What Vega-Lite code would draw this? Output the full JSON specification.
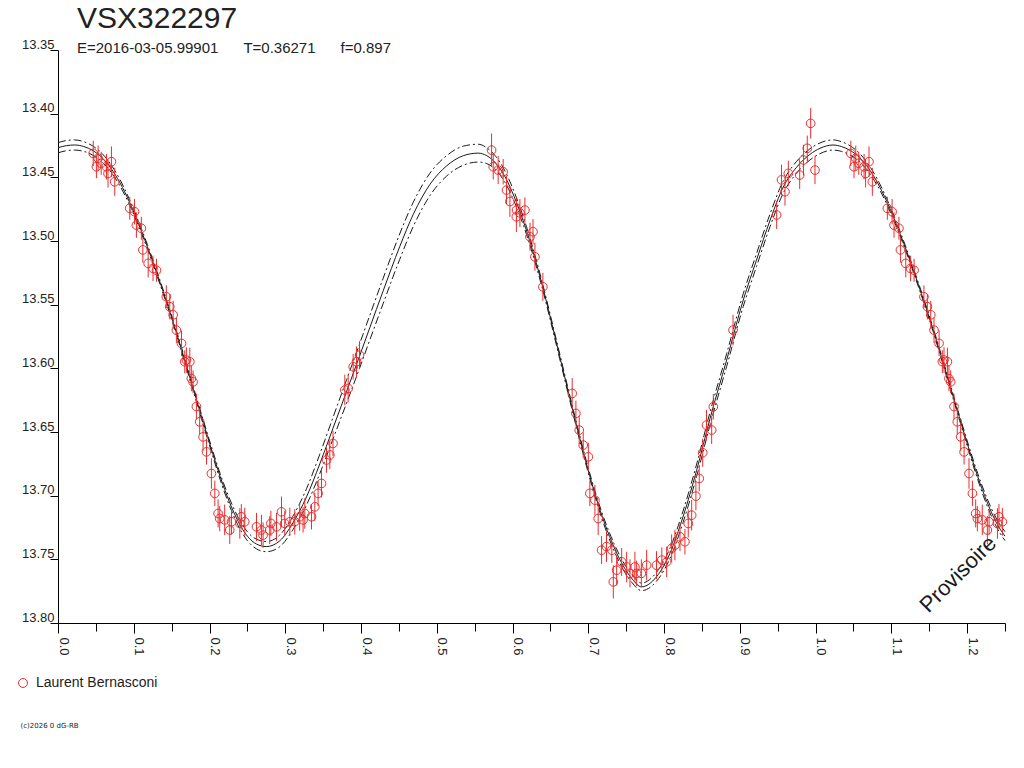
{
  "$schema": "https://vega.github.io/schema/vega-lite/v6.json",
  "width": 947,
  "height": 573,
  "autosize": "none",
  "padding": {"left": 58, "top": 50, "right": 19, "bottom": 145},
  "background": "white",
  "title": {
    "text": "VSX322297",
    "subtitle": "E=2016-03-05.99901\u00a0\u00a0\u00a0\u00a0\u00a0\u00a0T=0.36271\u00a0\u00a0\u00a0\u00a0\u00a0\u00a0f=0.897",
    "anchor": "start",
    "frame": "group",
    "dx": 19,
    "offset": -18,
    "font": "Liberation Sans",
    "fontSize": 30,
    "fontWeight": "normal",
    "color": "#222",
    "subtitleFont": "Liberation Sans",
    "subtitleFontSize": 15,
    "subtitleColor": "#222",
    "subtitlePadding": 7
  },
  "datasets": {
    "model": [
      {"phase": 0.000, "fit": 13.4268, "bright": 13.4228, "faint": 13.4308},
      {"phase": 0.011, "fit": 13.4251, "bright": 13.4211, "faint": 13.4291},
      {"phase": 0.022, "fit": 13.4246, "bright": 13.4206, "faint": 13.4286},
      {"phase": 0.034, "fit": 13.4258, "bright": 13.4220, "faint": 13.4296},
      {"phase": 0.046, "fit": 13.4290, "bright": 13.4254, "faint": 13.4326},
      {"phase": 0.058, "fit": 13.4345, "bright": 13.4312, "faint": 13.4378},
      {"phase": 0.070, "fit": 13.4430, "bright": 13.4401, "faint": 13.4459},
      {"phase": 0.082, "fit": 13.4545, "bright": 13.4520, "faint": 13.4570},
      {"phase": 0.094, "fit": 13.4690, "bright": 13.4669, "faint": 13.4711},
      {"phase": 0.106, "fit": 13.4860, "bright": 13.4841, "faint": 13.4879},
      {"phase": 0.118, "fit": 13.5045, "bright": 13.5028, "faint": 13.5062},
      {"phase": 0.130, "fit": 13.5245, "bright": 13.5229, "faint": 13.5261},
      {"phase": 0.142, "fit": 13.5455, "bright": 13.5440, "faint": 13.5470},
      {"phase": 0.154, "fit": 13.5675, "bright": 13.5660, "faint": 13.5690},
      {"phase": 0.166, "fit": 13.5910, "bright": 13.5894, "faint": 13.5926},
      {"phase": 0.178, "fit": 13.6150, "bright": 13.6133, "faint": 13.6167},
      {"phase": 0.190, "fit": 13.6390, "bright": 13.6372, "faint": 13.6408},
      {"phase": 0.202, "fit": 13.6625, "bright": 13.6605, "faint": 13.6645},
      {"phase": 0.214, "fit": 13.6850, "bright": 13.6826, "faint": 13.6874},
      {"phase": 0.226, "fit": 13.7045, "bright": 13.7017, "faint": 13.7073},
      {"phase": 0.238, "fit": 13.7205, "bright": 13.7173, "faint": 13.7237},
      {"phase": 0.250, "fit": 13.7318, "bright": 13.7283, "faint": 13.7353},
      {"phase": 0.262, "fit": 13.7380, "bright": 13.7342, "faint": 13.7418},
      {"phase": 0.275, "fit": 13.7400, "bright": 13.7360, "faint": 13.7440},
      {"phase": 0.2927, "fit": 13.7355, "bright": 13.7309, "faint": 13.7401},
      {"phase": 0.310, "fit": 13.7215, "bright": 13.7162, "faint": 13.7268},
      {"phase": 0.328, "fit": 13.7010, "bright": 13.6946, "faint": 13.7074},
      {"phase": 0.3456, "fit": 13.6750, "bright": 13.6674, "faint": 13.6826},
      {"phase": 0.363, "fit": 13.6470, "bright": 13.6385, "faint": 13.6555},
      {"phase": 0.381, "fit": 13.6180, "bright": 13.6089, "faint": 13.6271},
      {"phase": 0.398, "fit": 13.5905, "bright": 13.5810, "faint": 13.6000},
      {"phase": 0.4116, "fit": 13.5680, "bright": 13.5583, "faint": 13.5777},
      {"phase": 0.429, "fit": 13.5395, "bright": 13.5296, "faint": 13.5494},
      {"phase": 0.451, "fit": 13.5045, "bright": 13.4945, "faint": 13.5145},
      {"phase": 0.469, "fit": 13.4790, "bright": 13.4695, "faint": 13.4885},
      {"phase": 0.491, "fit": 13.4555, "bright": 13.4467, "faint": 13.4643},
      {"phase": 0.513, "fit": 13.4410, "bright": 13.4330, "faint": 13.4490},
      {"phase": 0.535, "fit": 13.4330, "bright": 13.4255, "faint": 13.4405},
      {"phase": 0.5546, "fit": 13.4310, "bright": 13.4240, "faint": 13.4380},
      {"phase": 0.566, "fit": 13.4330, "bright": 13.4268, "faint": 13.4392},
      {"phase": 0.578, "fit": 13.4390, "bright": 13.4337, "faint": 13.4443},
      {"phase": 0.590, "fit": 13.4495, "bright": 13.4450, "faint": 13.4540},
      {"phase": 0.602, "fit": 13.4650, "bright": 13.4612, "faint": 13.4688},
      {"phase": 0.614, "fit": 13.4840, "bright": 13.4808, "faint": 13.4872},
      {"phase": 0.626, "fit": 13.5065, "bright": 13.5038, "faint": 13.5092},
      {"phase": 0.638, "fit": 13.5320, "bright": 13.5297, "faint": 13.5343},
      {"phase": 0.650, "fit": 13.5605, "bright": 13.5585, "faint": 13.5625},
      {"phase": 0.662, "fit": 13.5900, "bright": 13.5880, "faint": 13.5920},
      {"phase": 0.674, "fit": 13.6195, "bright": 13.6175, "faint": 13.6215},
      {"phase": 0.686, "fit": 13.6485, "bright": 13.6465, "faint": 13.6505},
      {"phase": 0.698, "fit": 13.6760, "bright": 13.6740, "faint": 13.6780},
      {"phase": 0.710, "fit": 13.7010, "bright": 13.6988, "faint": 13.7032},
      {"phase": 0.722, "fit": 13.7225, "bright": 13.7200, "faint": 13.7250},
      {"phase": 0.734, "fit": 13.7405, "bright": 13.7377, "faint": 13.7433},
      {"phase": 0.746, "fit": 13.7550, "bright": 13.7520, "faint": 13.7580},
      {"phase": 0.758, "fit": 13.7655, "bright": 13.7625, "faint": 13.7685},
      {"phase": 0.770, "fit": 13.7716, "bright": 13.7686, "faint": 13.7746},
      {"phase": 0.790, "fit": 13.7637, "bright": 13.7602, "faint": 13.7672},
      {"phase": 0.8077, "fit": 13.7454, "bright": 13.7414, "faint": 13.7494},
      {"phase": 0.825, "fit": 13.7166, "bright": 13.7121, "faint": 13.7211},
      {"phase": 0.843, "fit": 13.6800, "bright": 13.6752, "faint": 13.6848},
      {"phase": 0.8606, "fit": 13.6395, "bright": 13.6345, "faint": 13.6445},
      {"phase": 0.8826, "fit": 13.5935, "bright": 13.5885, "faint": 13.5985},
      {"phase": 0.9045, "fit": 13.5464, "bright": 13.5414, "faint": 13.5514},
      {"phase": 0.922, "fit": 13.5150, "bright": 13.5100, "faint": 13.5200},
      {"phase": 0.940, "fit": 13.4835, "bright": 13.4785, "faint": 13.4885},
      {"phase": 0.957, "fit": 13.4580, "bright": 13.4532, "faint": 13.4628},
      {"phase": 0.975, "fit": 13.4420, "bright": 13.4374, "faint": 13.4466},
      {"phase": 0.9925, "fit": 13.4320, "bright": 13.4276, "faint": 13.4364},
      {"phase": 1.0058, "fit": 13.4272, "bright": 13.4230, "faint": 13.4314},
      {"phase": 1.023, "fit": 13.4246, "bright": 13.4206, "faint": 13.4286},
      {"phase": 1.034, "fit": 13.4258, "bright": 13.4220, "faint": 13.4296},
      {"phase": 1.046, "fit": 13.4290, "bright": 13.4254, "faint": 13.4326},
      {"phase": 1.058, "fit": 13.4345, "bright": 13.4312, "faint": 13.4378},
      {"phase": 1.070, "fit": 13.4430, "bright": 13.4401, "faint": 13.4459},
      {"phase": 1.082, "fit": 13.4545, "bright": 13.4520, "faint": 13.4570},
      {"phase": 1.094, "fit": 13.4690, "bright": 13.4669, "faint": 13.4711},
      {"phase": 1.106, "fit": 13.4860, "bright": 13.4841, "faint": 13.4879},
      {"phase": 1.118, "fit": 13.5045, "bright": 13.5028, "faint": 13.5062},
      {"phase": 1.130, "fit": 13.5245, "bright": 13.5229, "faint": 13.5261},
      {"phase": 1.142, "fit": 13.5455, "bright": 13.5440, "faint": 13.5470},
      {"phase": 1.154, "fit": 13.5675, "bright": 13.5660, "faint": 13.5690},
      {"phase": 1.166, "fit": 13.5910, "bright": 13.5894, "faint": 13.5926},
      {"phase": 1.178, "fit": 13.6150, "bright": 13.6133, "faint": 13.6167},
      {"phase": 1.190, "fit": 13.6390, "bright": 13.6372, "faint": 13.6408},
      {"phase": 1.202, "fit": 13.6625, "bright": 13.6605, "faint": 13.6645},
      {"phase": 1.214, "fit": 13.6850, "bright": 13.6826, "faint": 13.6874},
      {"phase": 1.226, "fit": 13.7045, "bright": 13.7017, "faint": 13.7073},
      {"phase": 1.238, "fit": 13.7205, "bright": 13.7173, "faint": 13.7237},
      {"phase": 1.250, "fit": 13.7318, "bright": 13.7283, "faint": 13.7353}
    ],
    "obs": [
      {"phase": 0.0465, "mag": 13.4312, "err": 0.010},
      {"phase": 0.0507, "mag": 13.4417, "err": 0.009},
      {"phase": 0.053, "mag": 13.435, "err": 0.010},
      {"phase": 0.057, "mag": 13.439, "err": 0.009},
      {"phase": 0.064, "mag": 13.4417, "err": 0.010},
      {"phase": 0.066, "mag": 13.447, "err": 0.011},
      {"phase": 0.0705, "mag": 13.4377, "err": 0.012},
      {"phase": 0.0749, "mag": 13.4535, "err": 0.011},
      {"phase": 0.0947, "mag": 13.4743, "err": 0.009},
      {"phase": 0.101, "mag": 13.477, "err": 0.010},
      {"phase": 0.1035, "mag": 13.4875, "err": 0.010},
      {"phase": 0.110, "mag": 13.490, "err": 0.009},
      {"phase": 0.112, "mag": 13.507, "err": 0.010},
      {"phase": 0.119, "mag": 13.5176, "err": 0.011},
      {"phase": 0.1254, "mag": 13.5215, "err": 0.010},
      {"phase": 0.130, "mag": 13.523, "err": 0.009},
      {"phase": 0.143, "mag": 13.5438, "err": 0.009},
      {"phase": 0.1475, "mag": 13.5516, "err": 0.010},
      {"phase": 0.152, "mag": 13.558, "err": 0.011},
      {"phase": 0.1563, "mag": 13.570, "err": 0.010},
      {"phase": 0.163, "mag": 13.5804, "err": 0.010},
      {"phase": 0.1673, "mag": 13.5948, "err": 0.009},
      {"phase": 0.1695, "mag": 13.5935, "err": 0.010},
      {"phase": 0.174, "mag": 13.5948, "err": 0.011},
      {"phase": 0.176, "mag": 13.608, "err": 0.010},
      {"phase": 0.1783, "mag": 13.6106, "err": 0.009},
      {"phase": 0.1827, "mag": 13.630, "err": 0.010},
      {"phase": 0.187, "mag": 13.642, "err": 0.010},
      {"phase": 0.1915, "mag": 13.6538, "err": 0.011},
      {"phase": 0.196, "mag": 13.6656, "err": 0.010},
      {"phase": 0.2025, "mag": 13.6826, "err": 0.012},
      {"phase": 0.207, "mag": 13.6982, "err": 0.010},
      {"phase": 0.2113, "mag": 13.714, "err": 0.011},
      {"phase": 0.2135, "mag": 13.718, "err": 0.010},
      {"phase": 0.220, "mag": 13.719, "err": 0.012},
      {"phase": 0.2267, "mag": 13.727, "err": 0.011},
      {"phase": 0.229, "mag": 13.7205, "err": 0.010},
      {"phase": 0.240, "mag": 13.7218, "err": 0.012},
      {"phase": 0.242, "mag": 13.7166, "err": 0.010},
      {"phase": 0.2465, "mag": 13.7205, "err": 0.011},
      {"phase": 0.262, "mag": 13.7245, "err": 0.011},
      {"phase": 0.2685, "mag": 13.727, "err": 0.012},
      {"phase": 0.2707, "mag": 13.731, "err": 0.010},
      {"phase": 0.2795, "mag": 13.727, "err": 0.011},
      {"phase": 0.281, "mag": 13.7218, "err": 0.010},
      {"phase": 0.2884, "mag": 13.7245, "err": 0.011},
      {"phase": 0.295, "mag": 13.7127, "err": 0.012},
      {"phase": 0.2993, "mag": 13.7218, "err": 0.010},
      {"phase": 0.306, "mag": 13.7205, "err": 0.011},
      {"phase": 0.3125, "mag": 13.7205, "err": 0.010},
      {"phase": 0.319, "mag": 13.7166, "err": 0.011},
      {"phase": 0.3235, "mag": 13.719, "err": 0.010},
      {"phase": 0.3258, "mag": 13.714, "err": 0.012},
      {"phase": 0.3346, "mag": 13.7166, "err": 0.010},
      {"phase": 0.339, "mag": 13.7088, "err": 0.011},
      {"phase": 0.3433, "mag": 13.6982, "err": 0.010},
      {"phase": 0.3478, "mag": 13.6904, "err": 0.011},
      {"phase": 0.3544, "mag": 13.672, "err": 0.010},
      {"phase": 0.3588, "mag": 13.668, "err": 0.011},
      {"phase": 0.363, "mag": 13.659, "err": 0.010},
      {"phase": 0.3786, "mag": 13.617, "err": 0.012},
      {"phase": 0.383, "mag": 13.6158, "err": 0.011},
      {"phase": 0.3896, "mag": 13.5988, "err": 0.010},
      {"phase": 0.394, "mag": 13.5948, "err": 0.012},
      {"phase": 0.398, "mag": 13.5896, "err": 0.011},
      {"phase": 0.5723, "mag": 13.4286, "err": 0.013},
      {"phase": 0.5745, "mag": 13.4417, "err": 0.010},
      {"phase": 0.581, "mag": 13.4443, "err": 0.011},
      {"phase": 0.5876, "mag": 13.4456, "err": 0.010},
      {"phase": 0.592, "mag": 13.460, "err": 0.011},
      {"phase": 0.5965, "mag": 13.469, "err": 0.012},
      {"phase": 0.6053, "mag": 13.4757, "err": 0.010},
      {"phase": 0.6097, "mag": 13.478, "err": 0.011},
      {"phase": 0.6163, "mag": 13.4757, "err": 0.010},
      {"phase": 0.605, "mag": 13.481, "err": 0.012},
      {"phase": 0.623, "mag": 13.4967, "err": 0.011},
      {"phase": 0.627, "mag": 13.4927, "err": 0.010},
      {"phase": 0.6295, "mag": 13.5124, "err": 0.011},
      {"phase": 0.640, "mag": 13.536, "err": 0.011},
      {"phase": 0.6787, "mag": 13.6197, "err": 0.012},
      {"phase": 0.6836, "mag": 13.6354, "err": 0.010},
      {"phase": 0.688, "mag": 13.6485, "err": 0.011},
      {"phase": 0.6933, "mag": 13.6603, "err": 0.010},
      {"phase": 0.700, "mag": 13.6695, "err": 0.011},
      {"phase": 0.702, "mag": 13.6982, "err": 0.010},
      {"phase": 0.7087, "mag": 13.7035, "err": 0.012},
      {"phase": 0.713, "mag": 13.718, "err": 0.013},
      {"phase": 0.7175, "mag": 13.7428, "err": 0.011},
      {"phase": 0.724, "mag": 13.740, "err": 0.012},
      {"phase": 0.731, "mag": 13.7428, "err": 0.010},
      {"phase": 0.733, "mag": 13.7677, "err": 0.013},
      {"phase": 0.7374, "mag": 13.7585, "err": 0.012},
      {"phase": 0.744, "mag": 13.752, "err": 0.011},
      {"phase": 0.7506, "mag": 13.756, "err": 0.012},
      {"phase": 0.755, "mag": 13.761, "err": 0.011},
      {"phase": 0.7615, "mag": 13.756, "err": 0.012},
      {"phase": 0.7638, "mag": 13.761, "err": 0.010},
      {"phase": 0.770, "mag": 13.761, "err": 0.011},
      {"phase": 0.777, "mag": 13.7546, "err": 0.012},
      {"phase": 0.790, "mag": 13.7546, "err": 0.011},
      {"phase": 0.797, "mag": 13.7506, "err": 0.010},
      {"phase": 0.8034, "mag": 13.752, "err": 0.012},
      {"phase": 0.810, "mag": 13.7414, "err": 0.011},
      {"phase": 0.8143, "mag": 13.7388, "err": 0.012},
      {"phase": 0.821, "mag": 13.7323, "err": 0.011},
      {"phase": 0.8275, "mag": 13.7362, "err": 0.010},
      {"phase": 0.8319, "mag": 13.7218, "err": 0.011},
      {"phase": 0.8364, "mag": 13.7153, "err": 0.012},
      {"phase": 0.842, "mag": 13.7004, "err": 0.011},
      {"phase": 0.8464, "mag": 13.6865, "err": 0.010},
      {"phase": 0.851, "mag": 13.6663, "err": 0.011},
      {"phase": 0.856, "mag": 13.6446, "err": 0.012},
      {"phase": 0.8628, "mag": 13.6485, "err": 0.011},
      {"phase": 0.865, "mag": 13.6302, "err": 0.010},
      {"phase": 0.891, "mag": 13.570, "err": 0.012},
      {"phase": 0.9486, "mag": 13.4796, "err": 0.011},
      {"phase": 0.955, "mag": 13.452, "err": 0.012},
      {"phase": 0.9596, "mag": 13.4613, "err": 0.011},
      {"phase": 0.964, "mag": 13.4469, "err": 0.010},
      {"phase": 0.979, "mag": 13.4482, "err": 0.011},
      {"phase": 0.984, "mag": 13.4364, "err": 0.012},
      {"phase": 0.989, "mag": 13.4272, "err": 0.010},
      {"phase": 0.9935, "mag": 13.4076, "err": 0.012},
      {"phase": 0.9992, "mag": 13.4443, "err": 0.011},
      {"phase": 1.0465, "mag": 13.4312, "err": 0.010},
      {"phase": 1.0507, "mag": 13.4417, "err": 0.009},
      {"phase": 1.053, "mag": 13.435, "err": 0.010},
      {"phase": 1.057, "mag": 13.439, "err": 0.009},
      {"phase": 1.064, "mag": 13.4417, "err": 0.010},
      {"phase": 1.066, "mag": 13.447, "err": 0.011},
      {"phase": 1.0705, "mag": 13.4377, "err": 0.012},
      {"phase": 1.0749, "mag": 13.4535, "err": 0.011},
      {"phase": 1.0947, "mag": 13.4743, "err": 0.009},
      {"phase": 1.101, "mag": 13.477, "err": 0.010},
      {"phase": 1.1035, "mag": 13.4875, "err": 0.010},
      {"phase": 1.110, "mag": 13.490, "err": 0.009},
      {"phase": 1.112, "mag": 13.507, "err": 0.010},
      {"phase": 1.119, "mag": 13.5176, "err": 0.011},
      {"phase": 1.1254, "mag": 13.5215, "err": 0.010},
      {"phase": 1.130, "mag": 13.523, "err": 0.009},
      {"phase": 1.143, "mag": 13.5438, "err": 0.009},
      {"phase": 1.1475, "mag": 13.5516, "err": 0.010},
      {"phase": 1.152, "mag": 13.558, "err": 0.011},
      {"phase": 1.1563, "mag": 13.570, "err": 0.010},
      {"phase": 1.163, "mag": 13.5804, "err": 0.010},
      {"phase": 1.1673, "mag": 13.5948, "err": 0.009},
      {"phase": 1.1695, "mag": 13.5935, "err": 0.010},
      {"phase": 1.174, "mag": 13.5948, "err": 0.011},
      {"phase": 1.176, "mag": 13.608, "err": 0.010},
      {"phase": 1.1783, "mag": 13.6106, "err": 0.009},
      {"phase": 1.1827, "mag": 13.630, "err": 0.010},
      {"phase": 1.187, "mag": 13.642, "err": 0.010},
      {"phase": 1.1915, "mag": 13.6538, "err": 0.011},
      {"phase": 1.196, "mag": 13.6656, "err": 0.010},
      {"phase": 1.2025, "mag": 13.6826, "err": 0.012},
      {"phase": 1.207, "mag": 13.6982, "err": 0.010},
      {"phase": 1.2113, "mag": 13.714, "err": 0.011},
      {"phase": 1.2135, "mag": 13.718, "err": 0.010},
      {"phase": 1.220, "mag": 13.719, "err": 0.012},
      {"phase": 1.2267, "mag": 13.727, "err": 0.011},
      {"phase": 1.229, "mag": 13.7205, "err": 0.010},
      {"phase": 1.240, "mag": 13.7218, "err": 0.012},
      {"phase": 1.242, "mag": 13.7166, "err": 0.010},
      {"phase": 1.2465, "mag": 13.7205, "err": 0.011}
    ]
  },
  "encoding": {
    "x": {
      "field": "phase",
      "type": "quantitative",
      "scale": {"domain": [0, 1.25], "nice": false, "zero": false},
      "axis": {
        "title": "(c)2026 0 dG-RB",
        "titleFont": "DejaVu Sans",
        "titleFontSize": 7,
        "titleFontWeight": "normal",
        "titleColor": "#222",
        "titleX": -38,
        "titleY": 102,
        "titleAlign": "left",
        "titleBaseline": "middle",
        "values": [0, 0.05, 0.1, 0.15, 0.2, 0.25, 0.3, 0.35, 0.4, 0.45, 0.5, 0.55, 0.6, 0.65, 0.7, 0.75, 0.8, 0.85, 0.9, 0.95, 1.0, 1.05, 1.1, 1.15, 1.2, 1.25],
        "labelExpr": "round(datum.value*20)%2==0 ? format(datum.value,'.1f') : ''",
        "tickSize": {"condition": {"test": "round(datum.value*20)%2==0", "value": 10}, "value": 8},
        "labelAngle": 90,
        "labelAlign": "left",
        "labelBaseline": "alphabetic",
        "labelPadding": 4,
        "labelOffset": 1
      }
    }
  },
  "layer": [
    {
      "data": {"name": "model"},
      "mark": {"type": "line", "interpolate": "monotone", "color": "#1a1a1a", "strokeWidth": 1, "strokeDash": [8, 3, 2, 3]},
      "encoding": {
        "y": {
          "field": "bright",
          "type": "quantitative",
          "scale": {"domain": [13.35, 13.8], "reverse": true, "nice": false, "zero": false},
          "axis": {
            "title": null,
            "values": [13.35, 13.4, 13.45, 13.5, 13.55, 13.6, 13.65, 13.7, 13.75, 13.8],
            "format": ".2f",
            "tickSize": 8,
            "labelPadding": -4,
            "labelAlign": "right",
            "labelBaseline": "alphabetic",
            "labelOffset": -2
          }
        }
      }
    },
    {
      "data": {"name": "model"},
      "mark": {"type": "line", "interpolate": "monotone", "color": "#1a1a1a", "strokeWidth": 1, "strokeDash": [8, 3, 2, 3]},
      "encoding": {
        "y": {"field": "faint", "type": "quantitative"}
      }
    },
    {
      "data": {"name": "model"},
      "mark": {"type": "line", "interpolate": "monotone", "color": "#1a1a1a", "strokeWidth": 1},
      "encoding": {
        "y": {"field": "fit", "type": "quantitative"}
      }
    },
    {
      "data": {"name": "obs"},
      "mark": {"type": "errorbar", "color": "#ec2d2d", "thickness": 1},
      "encoding": {
        "y": {"field": "mag", "type": "quantitative"},
        "yError": {"field": "err"}
      }
    },
    {
      "data": {"name": "obs"},
      "mark": {"type": "point", "shape": "circle", "filled": false, "size": 75, "strokeWidth": 1, "opacity": 1},
      "encoding": {
        "y": {"field": "mag", "type": "quantitative"},
        "color": {
          "datum": "Laurent Bernasconi",
          "type": "nominal",
          "scale": {"domain": ["Laurent Bernasconi"], "range": ["#ec2d2d"]},
          "legend": {
            "orient": "none",
            "legendX": -42,
            "legendY": 626,
            "title": null,
            "padding": 0,
            "labelFont": "Liberation Sans",
            "labelFontSize": 14,
            "labelColor": "#222",
            "labelOffset": 6,
            "symbolSize": 80,
            "symbolStrokeWidth": 1,
            "symbolType": "circle"
          }
        }
      }
    },
    {
      "data": {"values": [{"phase": 1.188, "mag": 13.7616, "label": "Provisoire"}]},
      "mark": {"type": "text", "angle": -45, "align": "center", "baseline": "middle", "font": "Liberation Sans", "fontSize": 22, "color": "#1a1a1a"},
      "encoding": {
        "y": {"field": "mag", "type": "quantitative"},
        "text": {"field": "label"}
      }
    }
  ],
  "config": {
    "view": {"stroke": null},
    "font": "Liberation Sans",
    "axis": {
      "grid": false,
      "domainColor": "#000",
      "tickColor": "#000",
      "domainWidth": 1,
      "tickWidth": 1,
      "labelFont": "Liberation Sans",
      "labelFontSize": 13,
      "labelColor": "#222",
      "labelOverlap": false,
      "labelFlush": false,
      "labelBound": false
    }
  }
}
